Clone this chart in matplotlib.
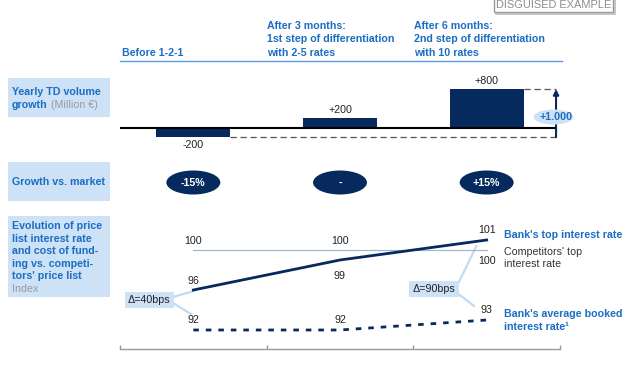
import matplotlib
matplotlib.use('Agg')
import matplotlib.pyplot as plt
from matplotlib.patches import Ellipse, Rectangle
import numpy as np

plt.rcParams['font.family'] = ['Liberation Sans', 'DejaVu Sans']

# данные
periods = ['Before 1-2-1',
           'After 3 months:\n1st step of differentiation\nwith 2-5 rates',
           'After 6 months:\n2nd step of differentiation\nwith 10 rates']
volume_growth = [-200, 200, 800]          # Million €
growth_vs_market = ['-15%', '-', '+15%']
bank_top_rate = [96, 99, 101]
competitor_top_rate = [100, 100, 100]
bank_booked_rate = [92, 92, 93]
spread_labels = ['Δ=40bps', 'Δ=90bps']

navy = '#062a5e'
blue = '#1b6ec2'
light = '#cde1f7'
dark = '#222222'
grey = '#8c8c8c'
fs = 7.7

W, H = 630, 380
fig = plt.figure(figsize=(W / 100, H / 100), dpi=100)
fig.patch.set_facecolor('white')


def rect(x0, y0, x1, y1):
    return [x0 / W, 1 - y1 / H, (x1 - x0) / W, (y1 - y0) / H]


# фон в пикселях - рамки и подписи
bg = fig.add_axes([0, 0, 1, 1])
bg.set_xlim(0, W)
bg.set_ylim(H, 0)
bg.axis('off')
bg.set_zorder(0)

# DISGUISED EXAMPLE
bg.plot([496, 615, 615], [13.5, 13.5, -2], color='#bbbbbb', lw=1.2)
bg.add_patch(Rectangle((494, -6), 119, 18, fc='white', ec='#999999', lw=1))
bg.text(553.5, 5, 'DISGUISED EXAMPLE', ha='center', va='center', fontsize=7.9, color=grey)

# заголовки колонок
col_x = [122, 267, 414]
for cx, title in zip(col_x, periods):
    lines = title.split('\n')[::-1]
    for i, line in enumerate(lines):
        bg.text(cx, 53 - i * 13.5, line, ha='left', va='center', fontsize=fs,
                fontweight='bold', color=blue)
bg.plot([120, 562], [61, 61], color='#5a9be0', lw=1)

# левые плашки
bg.add_patch(Rectangle((8, 78), 102, 39, fc=light, ec='none'))
bg.text(12, 92, 'Yearly TD volume', va='center', fontsize=fs, fontweight='bold', color=blue)
t = bg.text(12, 105, 'growth', va='center', fontsize=fs, fontweight='bold', color=blue)
bg.annotate(' (Million €)', xy=(1, 0.5), xycoords=t, va='center', fontsize=fs, color='#9a9a9a')

bg.add_patch(Rectangle((8, 162), 102, 39, fc=light, ec='none'))
bg.text(12, 182, 'Growth vs. market', va='center', fontsize=fs, fontweight='bold', color=blue)

bg.add_patch(Rectangle((8, 216), 102, 81, fc=light, ec='none'))
box3 = ['Evolution of price', 'list interest rate', 'and cost of fund-',
        'ing vs. competi-', "tors' price list"]
for i, line in enumerate(box3):
    bg.text(12, 226 + i * 12.6, line, va='center', fontsize=fs, fontweight='bold', color=blue)
bg.text(12, 289, 'Index', va='center', fontsize=fs, color='#9a9a9a')

# правые подписи линий
bg.text(504, 235, "Bank's top interest rate", va='center', fontsize=fs, fontweight='bold', color=blue)
bg.text(504, 252, "Competitors' top", va='center', fontsize=fs, color='#333333')
bg.text(504, 264, 'interest rate', va='center', fontsize=fs, color='#333333')
bg.text(504, 314, "Bank's average booked", va='center', fontsize=fs, fontweight='bold', color=blue)
bg.text(504, 327, 'interest rate¹', va='center', fontsize=fs, fontweight='bold', color=blue)

x = np.arange(3) + 0.5

# столбцы
s = 38.5 / 800  # px на единицу
ax = fig.add_axes(rect(120, 70, 560, 150))
ax.set_zorder(1)
ax.patch.set_alpha(0)
ax.set_xlim(0, 3)
ax.set_ylim(-(150 - 127.5) / s, (127.5 - 70) / s)
ax.axis('off')
ax.bar(x, volume_growth, width=0.505, color=navy, zorder=2)
xa = 2.973
ax.plot([0, xa], [0, 0], color='black', lw=1.5, zorder=3)
ax.plot([x[0] + 0.2525, xa], [volume_growth[0]] * 2, color='#555555', lw=0.9, dashes=(5, 3))
ax.plot([x[2] + 0.2525, xa], [volume_growth[2]] * 2, color='#555555', lw=0.9, dashes=(5, 3))
ax.annotate('', xy=(xa, volume_growth[2]), xytext=(xa, volume_growth[0]),
            arrowprops=dict(arrowstyle='-|>', color=navy, lw=1.5, mutation_scale=8,
                            shrinkA=0, shrinkB=0))
for xi, v in zip(x, volume_growth):
    lab = f'+{v}' if v > 0 else f'{v}'
    ax.annotate(lab, (xi, v), xytext=(0, 5.4 if v > 0 else -5.8), textcoords='offset points',
                ha='center', va='center', fontsize=fs, color=dark)
total = volume_growth[2] - volume_growth[0]
ax.add_patch(Ellipse((2.955, 218), 0.27, 15 / s, fc=light, ec='none', zorder=6, clip_on=False))
ax.text(2.97, 218, f'+{total:,}'.replace(',', '.'), ha='center', va='center',
        fontsize=fs, fontweight='bold', color=blue, zorder=7, clip_on=False)

# рост против рынка
ax2 = fig.add_axes(rect(120, 165.5, 560, 199.5))
ax2.set_zorder(1)
ax2.patch.set_alpha(0)
ax2.set_xlim(0, 3)
ax2.set_ylim(0, 1)
ax2.axis('off')
for xi, lab in zip(x, growth_vs_market):
    ax2.add_patch(Ellipse((xi, 0.5), 0.368, 0.706, fc=navy, ec='none'))
    ax2.text(xi, 0.5, lab, ha='center', va='center', fontsize=fs, fontweight='bold', color='white')

# ставки
ax3 = fig.add_axes(rect(120, 215, 560, 349))
ax3.set_zorder(1)
ax3.patch.set_alpha(0)
ax3.set_xlim(0, 3)
ax3.set_ylim(90.1, 103.5)
for sp in ['top', 'left', 'right']:
    ax3.spines[sp].set_visible(False)
ax3.spines['bottom'].set_color('#999999')
ax3.spines['bottom'].set_linewidth(1)
ax3.set_xticks([0, 1, 2, 3])
ax3.set_xticklabels([])
ax3.set_yticks([])
ax3.tick_params(axis='x', direction='in', length=3, color='#999999', width=1)

# выноски
call = '#c3daf3'
ax3.plot([0.361, 0.504], [95.3, 95.9], color=call, lw=1.6, zorder=1)
ax3.plot([0.361, 0.484], [94.7, 93.6], color=call, lw=1.6, zorder=1)
ax3.plot([2.311, 2.43], [96.8, 100.4], color=call, lw=1.6, zorder=1)
ax3.plot([2.298, 2.414], [95.7, 94.4], color=call, lw=1.6, zorder=1)
ax3.text(0.198, 95.0, spread_labels[0], ha='center', va='center', fontsize=fs, color=dark,
         bbox=dict(boxstyle='square,pad=0.3', fc=light, ec='none'), zorder=2)
ax3.text(2.141, 96.1, spread_labels[1], ha='center', va='center', fontsize=fs, color=dark,
         bbox=dict(boxstyle='square,pad=0.3', fc=light, ec='none'), zorder=2)

ax3.plot(x, competitor_top_rate, color='#9bb3cc', lw=0.8, zorder=3)
ax3.plot(x, bank_top_rate, color=navy, lw=2, zorder=4)
ax3.plot(x, bank_booked_rate, color=navy, lw=2, linestyle=(0, (2, 2.5)), zorder=4)

for i in range(2):
    ax3.text(x[i], competitor_top_rate[i] + 0.9, str(competitor_top_rate[i]),
             ha='center', va='center', fontsize=fs, color=dark)
ax3.text(x[2], competitor_top_rate[2] - 1.1, str(competitor_top_rate[2]),
         ha='center', va='center', fontsize=fs, color=dark)
ax3.text(x[0], bank_top_rate[0] + 0.9, str(bank_top_rate[0]), ha='center', va='center', fontsize=fs, color=dark)
ax3.text(x[1], bank_top_rate[1] - 1.6, str(bank_top_rate[1]), ha='center', va='center', fontsize=fs, color=dark)
ax3.text(x[2], bank_top_rate[2] + 1.0, str(bank_top_rate[2]), ha='center', va='center', fontsize=fs, color=dark)
for i in range(3):
    ax3.text(x[i], bank_booked_rate[i] + 1.05, str(bank_booked_rate[i]),
             ha='center', va='center', fontsize=fs, color=dark)

fig.savefig('out.png', dpi=100)
